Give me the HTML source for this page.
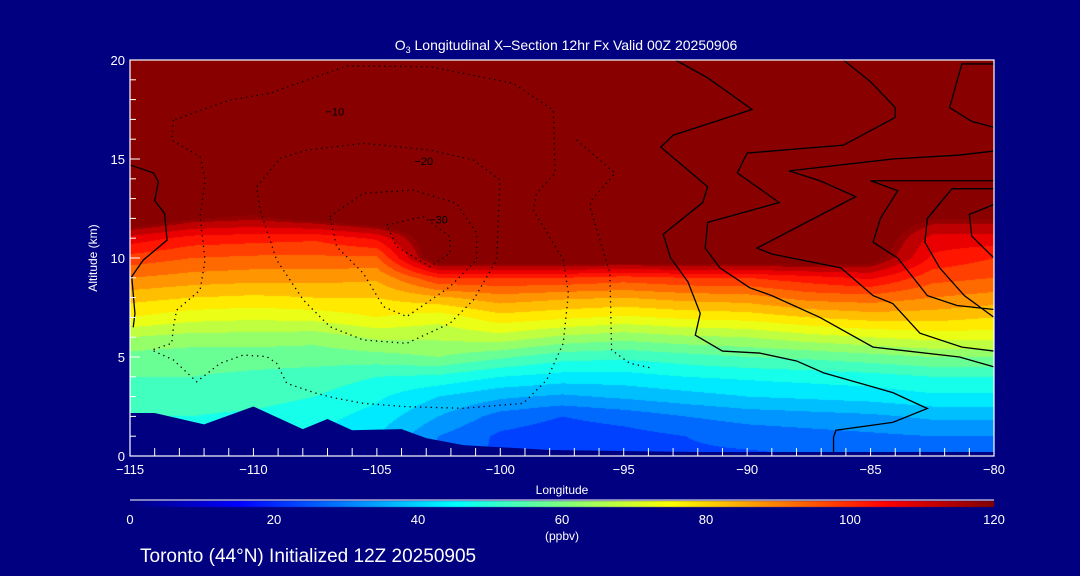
<!DOCTYPE html>
<html><head><meta charset="utf-8"><style>
html,body{margin:0;padding:0;background:#000080;}
#wrap{position:relative;width:1080px;height:576px;background:#000080;overflow:hidden;font-family:"Liberation Sans",sans-serif;color:#fff;}
canvas,svg{position:absolute;left:0;top:0;}
</style></head><body>
<div id="wrap">
<canvas id="field" width="1080" height="576"></canvas>
<svg id="ov" width="1080" height="576"></svg>
</div>
<script>
// ---- data ----
const lons = [-115,-112.5,-110,-107.5,-105,-102.5,-100,-97.5,-95,-92.5,-90,-87.5,-85,-82.5,-80];
const alts = [0,1,2,3,4,5,6,7,8,9,10,11,12,13,14,15,16,17,18,19,20];
const ozone = [
 [45,45,45,42,38,28,24,23,23,24,24,25,26,26,27],
 [48,48,47,45,40,30,24,22,23,25,27,28,29,30,30],
 [50,50,49,47,43,35,28,25,27,30,32,33,34,36,36],
 [53,52,52,50,46,40,36,34,36,38,40,41,42,44,44],
 [55,55,54,53,50,49,45,43,43,45,46,47,48,50,50],
 [58,57,57,57,58,60,56,52,51,53,55,56,58,60,60],
 [65,63,63,62,66,66,68,64,62,64,65,68,70,72,72],
 [75,72,71,72,75,72,78,76,74,76,77,80,82,82,80],
 [82,80,79,80,80,84,88,86,85,87,88,92,93,90,88],
 [90,88,87,87,86,100,100,100,98,100,100,103,106,97,95],
 [98,95,94,94,94,125,125,125,125,125,125,125,122,104,100],
 [108,103,102,101,106,125,125,125,125,125,125,125,125,108,108],
 [125,118,116,120,125,125,125,125,125,125,125,125,125,118,118],
 [125,125,125,125,125,125,125,125,125,125,125,125,125,125,125],
 [125,125,125,125,125,125,125,125,125,125,125,125,125,125,125],
 [125,125,125,125,125,125,125,125,125,125,125,125,125,125,125],
 [125,125,125,125,125,125,125,125,125,125,125,125,125,125,125],
 [125,125,125,125,125,125,125,125,125,125,125,125,125,125,125],
 [125,125,125,125,125,125,125,125,125,125,125,125,125,125,125],
 [125,125,125,125,125,125,125,125,125,125,125,125,125,125,125],
 [125,125,125,125,125,125,125,125,125,125,125,125,125,125,125]
];
const terrainLon = [-115,-114,-112,-110,-108,-107,-106,-104,-103,-101.5,-98,-92,-80];
const terrainAlt = [2.17,2.17,1.6,2.5,1.36,1.87,1.3,1.36,0.9,0.55,0.3,0.2,0.2];
// solid contours
const c0Lon = [-115,-114.05,-113.85,-114,-113.6,-113.5,-114.46,-114.93,-114.8,-114.87];
const c0Alt = [14.7,14.3,13.85,12.9,12.25,10.9,9.9,9.06,7.2,6.5];
const c1Lon = [-92.9,-91.6,-89.8,-93.0,-93.5,-91.6,-91.8,-93.4,-93.1,-92.4,-91.9,-92.1,-91.0,-89.5,-88,-86.9,-84.1,-82.7,-84.1,-86.4,-86.5,-86.5];
const c1Alt = [20,19.1,17.5,16.2,15.6,13.6,12.8,11.2,10.0,8.8,7.2,6.1,5.3,5.2,4.8,4.2,3.2,2.4,1.7,1.3,0.96,0.2];
const c2Lon = [-86.1,-85.0,-84.0,-84.0,-86.1,-90.0,-90.4,-88.7,-91.6,-91.7,-91.1,-89.9,-89.0,-87.05,-84.9,-81.4,-80];
const c2Alt = [20,18.9,17.6,17.1,15.7,15.3,14.3,12.8,11.8,10.5,9.5,8.5,8.1,7.0,5.5,5.0,4.5];
const c3Lon = [-80,-81.4,-84.1,-88.3,-87.05,-85.6,-89.6,-89.0,-86.2,-84.9,-84.1,-83,-81.3,-80];
const c3Alt = [15.4,15.2,15.0,14.4,13.9,13.1,10.5,10.2,9.5,8.1,7.7,6.2,5.5,5.3];
const c4Lon = [-80,-85.0,-83.9,-84.6,-84.9,-83.9,-82.7,-81.5,-80];
const c4Alt = [13.9,13.9,13.4,12.0,10.8,10.0,8.1,7.6,7.4];
const c5Lon = [-80,-81.7,-82.7,-82.8,-82.2,-81.2,-80];
const c5Alt = [13.5,13.5,12.0,10.8,9.5,8.1,7.0];
const c6Lon = [-80,-81.3,-81.8,-80.9,-80];
const c6Alt = [19.8,19.8,17.6,16.9,16.6];
const c7Lon = [-80,-81.0,-80.9,-80];
const c7Alt = [12.7,12.2,11.1,10];
// dotted (negative) contours
const d1Lon = [-113.24,-113.31,-112.16,-111.96,-112.16,-111.96,-112.16,-113.11,-113.24,-113.31,-114.12,-113.24,-112.30,-111.35,-110.41,-109.46,-109.06,-108.65,-107.44,-106.63,-105.55,-103.79,-101.50,-99.07,-98.12,-97.45,-97.24,-97.45,-98.66,-98.53,-97.78,-97.85,-99.47,-102.85,-106.22,-109.33,-110.95,-113.24];
const d1Alt = [16.97,15.96,15.12,13.94,12.09,9.90,8.38,7.37,6.53,5.69,5.35,4.85,3.75,4.68,5.10,5.02,4.68,3.67,3.16,2.91,2.66,2.49,2.41,2.66,3.84,5.69,8.22,9.90,12.42,13.27,14.28,17.47,18.82,19.66,19.70,18.32,17.98,16.97];
const d2Lon = [-96.91,-95.35,-96.30,-96.37,-95.56,-95.49,-94.75,-93.83];
const d2Alt = [15.96,14.28,12.93,12.59,9.23,5.35,4.68,4.43];
const d3Lon = [-108.92,-107.84,-105.55,-102.85,-101.09,-100.01,-100.08,-100.15,-101.09,-102.04,-103.79,-105.55,-106.90,-107.98,-109.06,-109.73,-109.87,-108.92];
const d3Alt = [15.03,15.45,15.79,15.45,14.95,13.94,11.92,9.90,7.88,6.70,5.69,5.86,6.53,7.88,9.90,12.42,13.60,15.03];
const d4Lon = [-106.90,-105.55,-103.52,-101.77,-100.96,-100.96,-102.04,-103.79,-104.73,-105.55,-106.63,-106.90];
const d4Alt = [12.09,13.27,13.43,12.76,11.25,9.90,8.55,7.04,7.54,9.23,10.57,12.09];
const d5Lon = [-104.60,-103.12,-102.04,-102.04,-102.85,-104.2,-104.60];
const d5Alt = [11.67,12.09,11.08,10.24,9.56,10.57,11.67];
const labelText = ["\u221210","\u221220","\u221230"];
const labelLon = [-106.7,-103.1,-102.5];
const labelAlt = [17.2,14.7,11.75];
const xTicks = [-115,-110,-105,-100,-95,-90,-85,-80];
const xTickLabels = ["\u2212115","\u2212110","\u2212105","\u2212100","\u221295","\u221290","\u221285","\u221280"];
const yTicks = [0,5,10,15,20];
const cbTicks = [0,20,40,60,80,100,120];

// ---- axes ----
const X0=130,X1=994,Y0=456,Y1=60;
const xs = lon => X0+(lon+115)/35*(X1-X0);
const ys = a => Y0-a/20*(Y0-Y1);
const cbx = v => X0+v/120*(X1-X0);
function jet(v){const t=Math.max(0,Math.min(1,v/120));const c=x=>Math.round(255*Math.max(0,Math.min(1,x)));
 return [c(1.5-Math.abs(4*t-3)),c(1.5-Math.abs(4*t-2)),c(1.5-Math.abs(4*t-1))];}
function sample(lon,alt){
 let i=Math.max(0,Math.min(lons.length-2,Math.floor((lon-lons[0])/2.5)));
 let j=Math.max(0,Math.min(alts.length-2,Math.floor(alt)));
 const fx=Math.max(0,Math.min(1,(lon-lons[i])/2.5)),fy=Math.max(0,Math.min(1,alt-alts[j]));
 const a=ozone[j][i],b=ozone[j][i+1],c=ozone[j+1][i],d=ozone[j+1][i+1];
 return (a*(1-fx)+b*fx)*(1-fy)+(c*(1-fx)+d*fx)*fy;}
const cv=document.getElementById('field');const ctx=cv.getContext('2d');
const W=X1-X0,H=Y0-Y1;const img=ctx.createImageData(W,H);
for(let py=0;py<H;py++){for(let px=0;px<W;px++){
 const lon=-115+(px+0.5)/W*35,alt=20-(py+0.5)/H*20;
 let v=sample(lon,alt);let c;
 if(v>=117.5)c=[136,0,0];else{v=Math.floor(v/5)*5+2.5;c=jet(v);}
 const k=(py*W+px)*4;img.data[k]=c[0];img.data[k+1]=c[1];img.data[k+2]=c[2];img.data[k+3]=255;}}
ctx.putImageData(img,X0,Y1);
for(let px=0;px<W;px++){const c=jet(px/W*120);ctx.fillStyle=`rgb(${c[0]},${c[1]},${c[2]})`;ctx.fillRect(X0+px,501,1,6);}

// ---- overlay ----
const NS='http://www.w3.org/2000/svg';const svg=document.getElementById('ov');
function mk(tag,attrs,name,txt){const e=document.createElementNS(NS,tag);for(const k in attrs)e.setAttribute(k,attrs[k]);
 
 
 if(txt!==undefined)e.textContent=txt;svg.appendChild(e);return e;}
let tp=terrainLon.map((l,i)=>xs(l)+','+ys(terrainAlt[i])).join(' ');
tp+=' '+xs(-80)+','+Y0+' '+xs(-115)+','+Y0;
mk('polygon',{points:tp,fill:'#000080'},'terrain');
const pts=(L,A)=>L.map((l,i)=>xs(l)+','+ys(A[i])).join(' ');
[[c0Lon,c0Alt],[c1Lon,c1Alt],[c2Lon,c2Alt],[c3Lon,c3Alt],[c4Lon,c4Alt],[c5Lon,c5Alt],[c6Lon,c6Alt],[c7Lon,c7Alt]].forEach(p=>{
 mk('polyline',{points:pts(p[0],p[1]),fill:'none',stroke:'#000','stroke-width':1.3},'contour-line');});
[[d1Lon,d1Alt],[d2Lon,d2Alt],[d3Lon,d3Alt],[d4Lon,d4Alt],[d5Lon,d5Alt]].forEach(p=>{
 mk('polyline',{points:pts(p[0],p[1]),fill:'none',stroke:'#000','stroke-width':1.3,'stroke-dasharray':'1.3 4'},'dotted-contour');});
labelText.forEach((t,i)=>mk('text',{x:xs(labelLon[i]),y:ys(labelAlt[i]),fill:'#000','font-size':11,'text-anchor':'middle'},'contour-label',t));
mk('rect',{x:X0,y:Y1,width:W,height:H,fill:'none',stroke:'#fff','stroke-width':1.2},'plot-frame');
for(let l=-115;l<=-80;l++){mk('line',{x1:xs(l),y1:Y0,x2:xs(l),y2:Y0-8,stroke:'#fff'},'x-tick');}
xTicks.forEach((l,i)=>mk('text',{x:xs(l),y:474,fill:'#fff','font-size':13,'text-anchor':'middle'},'x-tick-label',xTickLabels[i]));
yTicks.forEach(a=>mk('text',{x:125,y:ys(a)+5,fill:'#fff','font-size':13,'text-anchor':'end'},'y-tick-label',String(a)));
for(let a=0;a<=20;a++){mk('line',{x1:X0,y1:ys(a),x2:X0+(a%5?6:10),y2:ys(a),stroke:'#fff'},'y-tick');}
mk('text',{x:562,y:494,fill:'#fff','font-size':12,'text-anchor':'middle'},'x-axis-title','Longitude');
mk('text',{x:97,y:258,fill:'#fff','font-size':12,'text-anchor':'middle',transform:'rotate(-90 97 258)'},'y-axis-title','Altitude (km)');
const tt=mk('text',{x:566,y:50,fill:'#fff','font-size':14,'text-anchor':'middle'},'chart-title');
tt.innerHTML='O<tspan font-size="9" dy="3">3</tspan><tspan dy="-3"> Longitudinal X\u2013Section 12hr  Fx Valid 00Z 20250906</tspan>';
mk('line',{x1:X0,y1:500,x2:X1,y2:500,stroke:'#fff'},'colorbar-line');
cbTicks.forEach(v=>mk('text',{x:cbx(v),y:524,fill:'#fff','font-size':13,'text-anchor':'middle'},'colorbar-label',String(v)));
mk('text',{x:562,y:540,fill:'#fff','font-size':12,'text-anchor':'middle'},'colorbar-unit','(ppbv)');
mk('text',{x:140,y:562,fill:'#fff','font-size':19},'footer-caption','Toronto (44\u00b0N) Initialized 12Z 20250905');
</script>
</body></html>
